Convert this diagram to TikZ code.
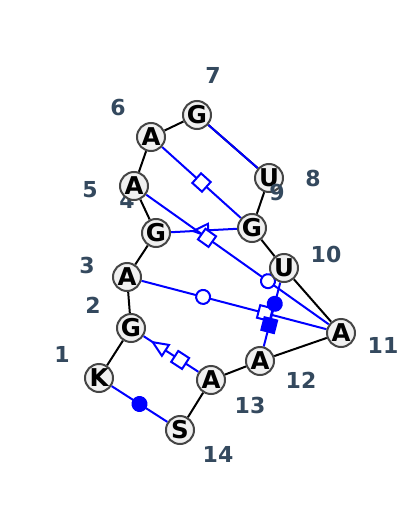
\documentclass[tikz,border=0pt]{standalone}
\usepackage{fontspec}
\setmainfont{DejaVu Sans}
\usepackage{xcolor}
\usepackage{tikz}
\usetikzlibrary{shapes.geometric,backgrounds}
\definecolor{numgray}{HTML}{34495E}
\definecolor{ntfill}{HTML}{F0F0F0}
\definecolor{ntdraw}{HTML}{454545}

\begin{document}
\begin{tikzpicture}[x=1pt,y=-1pt,
    nt/.style={shape=circle, draw=ntdraw, fill=ntfill, line width=2pt, minimum size=28pt, inner sep=0pt, font=\fontsize{24.5}{24.5}\selectfont\bfseries},
    num/.style={text=numgray, inner sep=0pt, font=\fontsize{22}{22}\selectfont\bfseries},
    bb/.style={line width=2pt},
    bp/.style={blue, line width=2pt},
    wc/.style={shape=circle, draw=blue, fill=white, line width=2pt, minimum size=14pt, inner sep=0pt, sloped},
    wcf/.style={wc, fill=blue},
    hg/.style={shape=rectangle, draw=blue, fill=white, line width=2pt, minimum size=13pt, inner sep=0pt, sloped},
    hgf/.style={hg, fill=blue},
    sg/.style={shape=isosceles triangle, shape border rotate=180, isosceles triangle stretches, draw=blue, fill=white, line width=2pt, minimum width=13pt, minimum height=15pt, inner sep=0pt, sloped, allow upside down}]
    \useasboundingbox (0,0) rectangle (400,506);

    \node[nt] (n1) at (99,378) {K};
    \node[num] (l1) at (62,354) {1};
    \node[nt] (n2) at (131,328) {G};
    \node[num] (l2) at (93,305) {2};
    \node[nt] (n3) at (127,277) {A};
    \node[num] (l3) at (87,265) {3};
    \node[nt] (n4) at (156,233) {G};
    \node[num] (l4) at (127,200) {4};
    \node[nt] (n5) at (134,186) {A};
    \node[num] (l5) at (90,190) {5};
    \node[nt] (n6) at (151,137) {A};
    \node[num] (l6) at (118,108) {6};
    \node[nt] (n7) at (197,115) {G};
    \node[num] (l7) at (213,75) {7};
    \node[nt] (n8) at (269,178) {U};
    \node[num] (l8) at (313,178) {8};
    \node[nt] (n9) at (252,228) {G};
    \node[num] (l9) at (277,192) {9};
    \node[nt] (n10) at (284,268) {U};
    \node[num] (l10) at (326,254) {10};
    \node[nt] (n11) at (341,333) {A};
    \node[num] (l11) at (383,345) {11};
    \node[nt] (n12) at (260,361) {A};
    \node[num] (l12) at (301,380) {12};
    \node[nt] (n13) at (211,380) {A};
    \node[num] (l13) at (250,405) {13};
    \node[nt] (n14) at (180,430) {S};
    \node[num] (l14) at (218,454) {14};

    \begin{pgfonlayer}{background}
    % backbone
    \draw[bb] (n1) -- (n2) -- (n3) -- (n4) -- (n5) -- (n6) -- (n7) -- (n8) -- (n9) -- (n10) -- (n11) -- (n12) -- (n13) -- (n14);
    % base pairs
    \draw[bp] (n1) -- node[wcf, pos=.5] (s1) {} (n14);
    \draw[bp] (n2) -- node[sg, pos=.333] (s2) {} node[hg, pos=.667] (s3) {} (n13);
    \draw[bp] (n3) -- node[wc, pos=.333] (s4) {} node[hg, pos=.667] (s5) {} (n11);
    \draw[bp] (n4) -- node[sg, pos=.5] (s6) {} (n9);
    \draw[bp] (n5) -- node[hg, pos=.333] (s7) {} node[wc, pos=.667] (s8) {} (n11);
    \draw[bp] (n6) -- node[hg, pos=.5] (s9) {} (n9);
    \draw[bp] (n7) -- (n8);
    \draw[bp] (n10) -- node[wcf, pos=.333] (s10) {} node[hgf, pos=.667] (s11) {} (n12);
    \end{pgfonlayer}
\end{tikzpicture}
\end{document}
